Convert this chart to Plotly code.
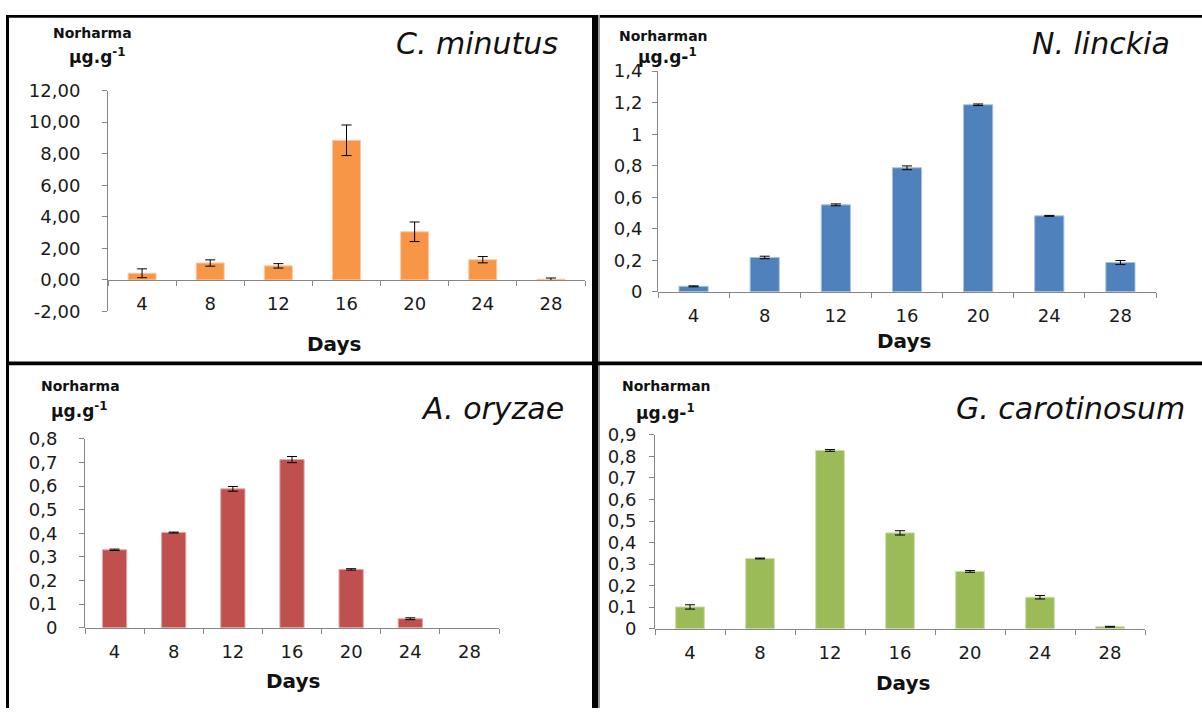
import plotly.graph_objects as go

# ---------------- data ----------------
days = ["4", "8", "12", "16", "20", "24", "28"]

cm_vals = [0.42, 1.07, 0.89, 8.85, 3.05, 1.28, 0.04]
cm_err = [0.28, 0.20, 0.14, 0.97, 0.62, 0.20, 0.08]

nl_vals = [0.035, 0.218, 0.552, 0.787, 1.187, 0.482, 0.186]
nl_err = [0.003, 0.008, 0.006, 0.012, 0.005, 0.003, 0.013]

ao_vals = [0.330, 0.403, 0.588, 0.712, 0.247, 0.038, None]
ao_err = [0.003, 0.002, 0.010, 0.013, 0.003, 0.004, None]

gc_vals = [0.101, 0.326, 0.828, 0.445, 0.266, 0.146, 0.009]
gc_err = [0.010, 0.002, 0.004, 0.010, 0.004, 0.008, 0.002]

cm_ticks = [-2, 0, 2, 4, 6, 8, 10, 12]
cm_ticktext = ["-2,00", "0,00", "2,00", "4,00", "6,00", "8,00", "10,00", "12,00"]
nl_ticks = [0, 0.2, 0.4, 0.6, 0.8, 1.0, 1.2, 1.4]
nl_ticktext = ["0", "0,2", "0,4", "0,6", "0,8", "1", "1,2", "1,4"]
ao_ticks = [0, 0.1, 0.2, 0.3, 0.4, 0.5, 0.6, 0.7, 0.8]
ao_ticktext = ["0", "0,1", "0,2", "0,3", "0,4", "0,5", "0,6", "0,7", "0,8"]
gc_ticks = [0, 0.1, 0.2, 0.3, 0.4, 0.5, 0.6, 0.7, 0.8, 0.9]
gc_ticktext = ["0", "0,1", "0,2", "0,3", "0,4", "0,5", "0,6", "0,7", "0,8", "0,9"]

titles = ["C. minutus", "N. linckia", "A. oryzae", "G. carotinosum"]
compounds = ["Norharma", "Norharman", "Norharma", "Norharman"]
units = ["μg.g<sup>-1</sup>", "μg.g-<sup>1</sup>", "μg.g<sup>-1</sup>", "μg.g-<sup>1</sup>"]

# ---------------- layout helpers ----------------
W, H = 1202, 718
def px(x):
    return x / W
def py(y):
    return 1 - y / H

FONT = "DejaVu Sans"
AXC = "#868686"
TICKFONT = dict(family=FONT, size=18, color="#1a1a1a")

fig = go.Figure()

panels = [
    dict(vals=cm_vals, err=cm_err, color="#F79646", edge="#FBC9A2",
         x0=108, x1=585, ytop=82, ybot=309.5, yzero=277, rng=[-2, 12],
         tv=cm_ticks, tt=cm_ticktext, ysoff=18),
    dict(vals=nl_vals, err=nl_err, color="#4F81BD", edge="#A9C0DE",
         x0=658, x1=1156, ytop=62, ybot=289.3, yzero=289.3, rng=[0, 1.4],
         tv=nl_ticks, tt=nl_ticktext, ysoff=6),
    dict(vals=ao_vals, err=ao_err, color="#C0504D", edge="#E0A8A6",
         x0=85, x1=499, ytop=440.7, ybot=635.3, yzero=635.3, rng=[0, 0.8],
         tv=ao_ticks, tt=ao_ticktext, ysoff=18),
    dict(vals=gc_vals, err=gc_err, color="#9BBB59", edge="#CDDDAC",
         x0=655, x1=1145, ytop=436.7, ybot=636.3, yzero=636.3, rng=[0, 0.9],
         tv=gc_ticks, tt=gc_ticktext, ysoff=9),
]

for i, p in enumerate(panels):
    n = "" if i == 0 else str(i + 1)
    fig.add_trace(go.Bar(
        x=days, y=p["vals"], xaxis="x" + n, yaxis="y" + n,
        marker=dict(color=p["color"], line=dict(color=p["edge"], width=1)),
        error_y=dict(type="data", array=p["err"], color="#000000",
                     thickness=1, width=5),
        showlegend=False, hoverinfo="skip",
    ))
    fig.layout["xaxis" + n] = dict(
        domain=[px(p["x0"]), px(p["x1"])], anchor="free",
        position=py(p["yzero"]), type="category",
        tickson="boundaries", ticks="outside", ticklen=5, tickcolor=AXC,
        showline=True, linecolor=AXC, linewidth=1, showgrid=False,
        tickfont=TICKFONT, ticklabelstandoff=8, fixedrange=True,
    )
    fig.layout["yaxis" + n] = dict(
        domain=[py(p["ybot"]), py(p["ytop"])], anchor="x" + n,
        range=p["rng"], tickvals=p["tv"], ticktext=p["tt"],
        ticks="outside", ticklen=5, tickcolor=AXC,
        showline=True, linecolor=AXC, linewidth=1, showgrid=False,
        zeroline=False, tickfont=TICKFONT, ticklabelstandoff=p["ysoff"],
        fixedrange=True,
    )

ann = []
# compound label, unit label, italic title (right edge), "Days"
pos = [
    dict(cx=92, cy=23, ux=97, uy=46, tx=560, ty=33, dx=334, dy=343),
    dict(cx=663, cy=26, ux=668, uy=46, tx=1172, ty=33, dx=904, dy=340),
    dict(cx=80, cy=386, ux=79, uy=411, tx=566, ty=409, dx=293, dy=690),
    dict(cx=667, cy=386, ux=665, uy=413, tx=1187, ty=409, dx=903, dy=692),
]
for i, q in enumerate(pos):
    ann.append(dict(x=px(q["cx"]), y=py(q["cy"]), xref="paper", yref="paper",
                    text="<b>" + compounds[i] + "</b>", showarrow=False,
                    xanchor="center", yanchor="middle",
                    font=dict(family=FONT, size=14, color="#111")))
    ann.append(dict(x=px(q["ux"]), y=py(q["uy"]), xref="paper", yref="paper",
                    text="<b>" + units[i] + "</b>", showarrow=False,
                    xanchor="center", yanchor="middle",
                    font=dict(family=FONT, size=17, color="#111")))
    ann.append(dict(x=px(q["tx"]), y=py(q["ty"]), xref="paper", yref="paper",
                    text="<i>" + titles[i] + "</i>", showarrow=False,
                    xanchor="right", yanchor="middle",
                    font=dict(family=FONT, size=30, color="#111")))
    ann.append(dict(x=px(q["dx"]), y=py(q["dy"]), xref="paper", yref="paper",
                    text="<b>Days</b>", showarrow=False,
                    xanchor="center", yanchor="middle",
                    font=dict(family=FONT, size=20, color="#111")))

shapes = [
    # left border
    dict(type="rect", xref="paper", yref="paper", x0=px(6), x1=px(9),
         y0=0, y1=py(4), fillcolor="black", line=dict(width=0), layer="above"),
    # top border
    dict(type="rect", xref="paper", yref="paper", x0=px(6), x1=1,
         y0=py(7), y1=py(4), fillcolor="black", line=dict(width=0), layer="above"),
    # central vertical divider
    dict(type="rect", xref="paper", yref="paper", x0=px(592), x1=px(598),
         y0=0, y1=py(4), fillcolor="black", line=dict(width=0), layer="above"),
    dict(type="rect", xref="paper", yref="paper", x0=px(598), x1=px(600),
         y0=0, y1=py(4), fillcolor="#9a9a9a", line=dict(width=0), layer="above"),
    # central horizontal divider
    dict(type="rect", xref="paper", yref="paper", x0=px(6), x1=1,
         y0=py(365), y1=py(361), fillcolor="black", line=dict(width=0), layer="above"),
]

fig.update_layout(
    width=W, height=H, margin=dict(l=0, r=0, t=0, b=0),
    paper_bgcolor="white", plot_bgcolor="white",
    bargap=0.59, annotations=ann, shapes=shapes,
    font=dict(family=FONT), hovermode=False,
)

fig.write_html(
    "out.html",
    config={"displayModeBar": False, "staticPlot": True},
    post_script="document.body.style.margin='0';document.body.style.overflow='hidden';",
)
